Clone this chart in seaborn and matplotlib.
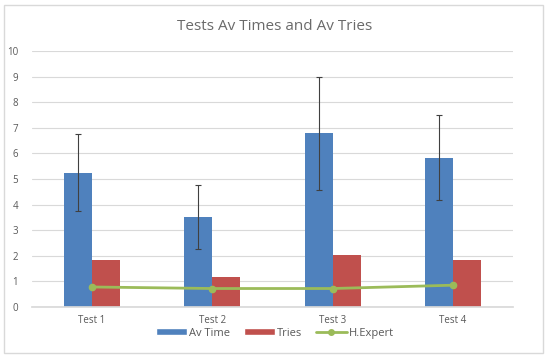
import pandas as pd
import matplotlib.pyplot as plt
import seaborn as sns
from matplotlib.patches import Rectangle, Patch
from matplotlib.lines import Line2D


# ==========================================
# DATA
# ==========================================

tests = ["Test 1", "Test 2", "Test 3", "Test 4"]
av_time = [5.24, 3.52, 6.78, 5.83]
av_time_err = [1.5, 1.25, 2.2, 1.65]
tries = [1.83, 1.17, 2.02, 1.83]
h_expert = [0.78, 0.72, 0.72, 0.85]

blue = "#4F81BD"
red = "#C0504D"
green = "#9BBB59"
text_grey = "#595959"

df = pd.DataFrame({
    "Test": tests * 2,
    "Value": av_time + tries,
    "Series": ["Av Time"] * len(tests) + ["Tries"] * len(tests)
})


# ==========================================
# PLOT
# ==========================================

sns.set_theme(style="white")
plt.rcParams["font.family"] = ["Open Sans", "DejaVu Sans"]

fig = plt.figure(figsize=(5.5, 3.59), dpi=100)
ax = fig.add_axes([0.058, 0.145, 0.875, 0.713])

sns.barplot(
    data=df,
    x="Test",
    y="Value",
    hue="Series",
    palette=[blue, red],
    width=0.467,
    errorbar=None,
    saturation=1,
    linewidth=0,
    legend=False,
    ax=ax
)

# error bars on the Av Time bars
blue_bars = ax.containers[0]
centers = [b.get_x() + b.get_width() / 2 for b in blue_bars]
ax.errorbar(
    centers,
    av_time,
    yerr=av_time_err,
    fmt="none",
    ecolor="#404040",
    elinewidth=0.8,
    capsize=2.5,
    capthick=0.8,
    zorder=3
)

# H.Expert line
ax.plot(
    range(len(tests)),
    h_expert,
    color=green,
    linewidth=2,
    marker="o",
    markersize=4.5,
    zorder=4
)

ax.set_ylim(0, 10)
ax.set_yticks(range(0, 11))
ax.set_xlim(-0.5, len(tests) - 0.5)
ax.yaxis.grid(True, color="#D9D9D9", linewidth=0.8)
ax.set_axisbelow(True)

for side in ["top", "right", "left"]:
    ax.spines[side].set_visible(False)
ax.spines["bottom"].set_color("#D9D9D9")

ax.tick_params(axis="both", labelsize=7, colors=text_grey, length=0, pad=6)
ax.tick_params(axis="y", pad=10)
ax.set_xlabel("")
ax.set_ylabel("")

fig.text(0.5, 0.925, "Tests Av Times and Av Tries",
         ha="center", va="center", fontsize=11, color="#6a6a6a")

handles = [
    Patch(facecolor=blue, label="Av Time"),
    Patch(facecolor=red, label="Tries"),
    Line2D([0], [0], color=green, linewidth=2, marker="o",
           markersize=4, label="H.Expert")
]
fig.legend(
    handles=handles,
    loc="center",
    bbox_to_anchor=(0.5, 0.072),
    ncol=3,
    frameon=False,
    fontsize=8,
    handlelength=2.8,
    handleheight=0.6,
    handletextpad=0.2,
    columnspacing=1.2,
    labelcolor=text_grey
)

# outer chart frame
fig.patches.append(Rectangle(
    (0.008, 0.016), 0.98, 0.97,
    transform=fig.transFigure,
    fill=False,
    edgecolor="#D9D9D9",
    linewidth=1
))

plt.savefig("out.png", dpi=100)
